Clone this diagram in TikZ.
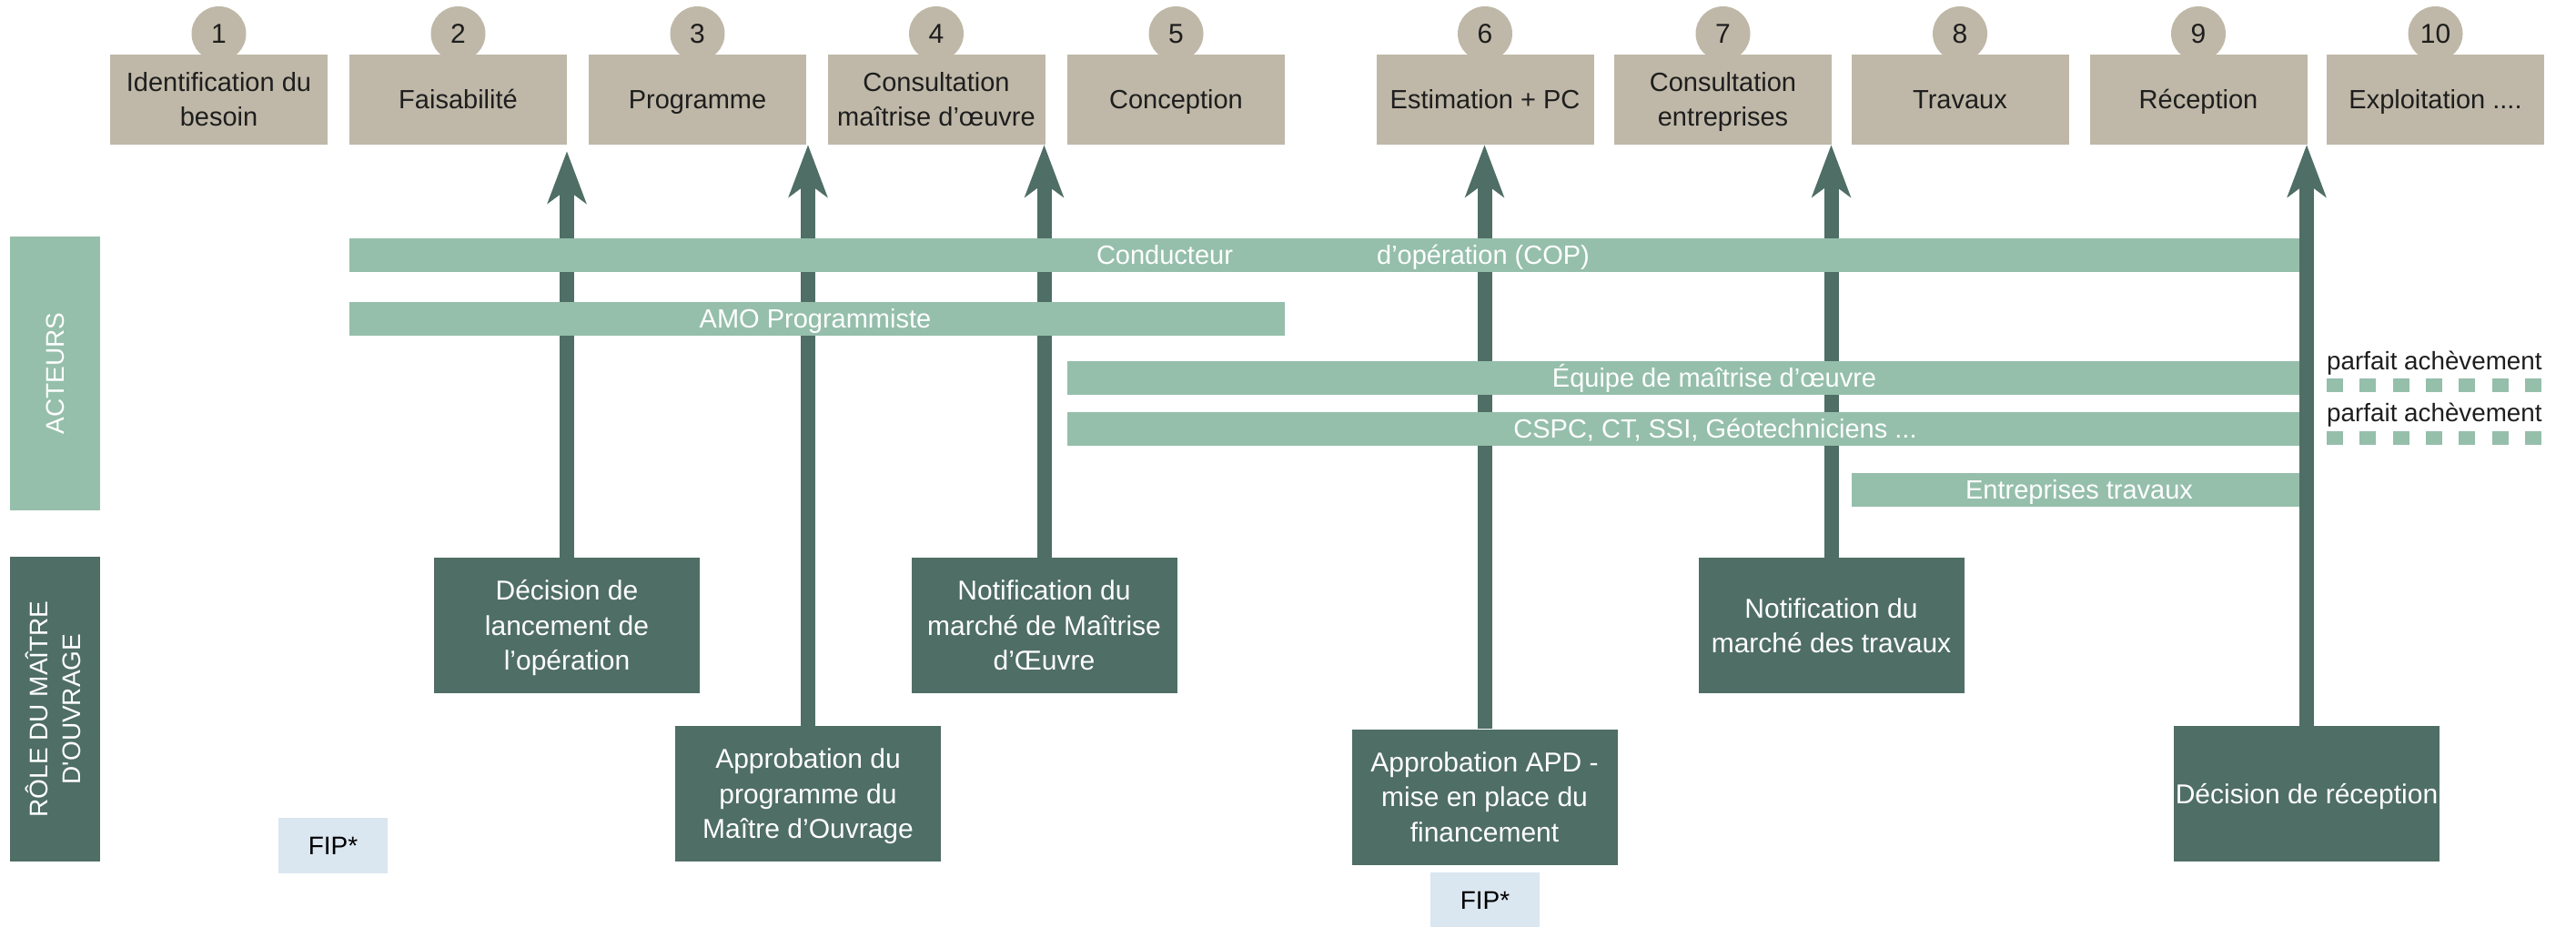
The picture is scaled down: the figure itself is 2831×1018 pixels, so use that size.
\documentclass[tikz,border=0pt]{standalone}
\usepackage{fontspec}
\setmainfont{Liberation Sans}
\usetikzlibrary{arrows.meta}
\definecolor{beige}{RGB}{191,184,168}
\definecolor{lgreen}{RGB}{149,191,171}
\definecolor{dgreen}{RGB}{79,110,101}
\definecolor{fipblue}{RGB}{218,230,240}
\definecolor{ink}{RGB}{30,30,30}
\newcommand\cl[1]{\smash{#1}\rule{0pt}{0.716em}}
\begin{document}
\begin{tikzpicture}[x=1pt,y=-1pt,
  phase/.style={fill=beige, minimum width=239pt, minimum height=99pt, inner sep=0pt, align=center, text=ink, font=\fontsize{29}{38}\selectfont},
  num/.style={circle, fill=beige, minimum size=60pt, inner sep=0pt, text=ink, font=\fontsize{30}{32}\selectfont},
  role/.style={fill=dgreen, minimum width=292pt, minimum height=149pt, inner sep=0pt, align=center, text=white, font=\fontsize{30}{38.5}\selectfont},
  bar/.style={fill=lgreen, minimum height=37pt, inner sep=0pt},
  bartext/.style={text=white, font=\fontsize{29}{30}\selectfont, inner sep=0pt},
  fip/.style={fill=fipblue, minimum width=120pt, inner sep=0pt, text=black, font=\fontsize{28}{30}\selectfont},
  side/.style={inner sep=0pt, align=center, text=white, font=\fontsize{28}{36}\selectfont},
  decision/.style={draw=dgreen, line width=16pt, -{Stealth[length=57pt,width=42pt,inset=15pt]}},
  dotbox/.style={fill=lgreen, minimum width=18pt, minimum height=15pt, inner sep=0pt},
  note/.style={text=ink, font=\fontsize{27.8}{30}\selectfont, inner sep=0pt, anchor=base west}
]
\useasboundingbox (0,0) rectangle (2831,1018);

% number circles
\foreach \n/\x in {1/240.5,2/503.5,3/766.5,4/1029,5/1292.5,6/1632,7/1893.5,8/2154,9/2416,10/2676.5}
  \node[num] (n\n) at (\x,37) {\cl{\n}};

% phase boxes
\node[phase] (p1) at (240.5,109.5) {\cl{Identification du}\\\cl{besoin}};
\node[phase] (p2) at (503.5,109.5) {\cl{Faisabilité}};
\node[phase] (p3) at (766.5,109.5) {\cl{Programme}};
\node[phase] (p4) at (1029,109.5) {\cl{Consultation}\\\cl{maîtrise d’œuvre}};
\node[phase] (p5) at (1292.5,109.5) {\cl{Conception}};
\node[phase] (p6) at (1632,109.5) {\cl{Estimation + PC}};
\node[phase] (p7) at (1893.5,109.5) {\cl{Consultation}\\\cl{entreprises}};
\node[phase] (p8) at (2154,109.5) {\cl{Travaux}};
\node[phase] (p9) at (2416,109.5) {\cl{Réception}};
\node[phase] (p10) at (2676.5,109.5) {\cl{Exploitation ....}};

% side labels
\node[side, fill=lgreen, rotate=90, minimum width=301pt, minimum height=99pt] (acteurs) at (60.5,410.5) {\cl{ACTEURS}};
\node[side, fill=dgreen, rotate=90, minimum width=335pt, minimum height=99pt] (roleMO) at (60.5,779.5) {\cl{RÔLE DU MAÎTRE}\\\cl{D\textquotesingle OUVRAGE}};

% decision boxes
\node[role] (d1) at (623,687.5) {\cl{Décision de}\\\cl{lancement de}\\\cl{l’opération}};
\node[role] (d2) at (888,872.5) {\cl{Approbation du}\\\cl{programme du}\\\cl{Maître d’Ouvrage}};
\node[role] (d3) at (1147.5,687.5) {\cl{Notification du}\\\cl{marché de Maîtrise}\\\cl{d’Œuvre}};
\node[role] (d4) at (1631.5,876) {\cl{Approbation APD -}\\\cl{mise en place du}\\\cl{financement}};
\node[role] (d5) at (2012.5,687.5) {\cl{Notification du}\\\cl{marché des travaux}};
\node[role] (d6) at (2535,872.5) {\cl{Décision de réception}};

% FIP boxes
\node[fip, minimum height=61pt] (fip1) at (366,929.5) {\cl{FIP*}};
\node[fip, minimum height=60pt] (fip2) at (1632,989) {\cl{FIP*}};

% arrows
\draw[decision, shorten >=7pt] (d1.north) -- (d1.north |- p2.south);
\draw[decision] (d2.north) -- (d2.north |- p3.south);
\draw[decision] (d3.north) -- (d3.north |- p4.south);
\draw[decision] (d4.north) -- (d4.north |- p6.south);
\draw[decision] (d5.north) -- (d5.north |- p7.south);
\draw[decision] (d6.north) -- (d6.north |- p9.south);

% actor bars
\node[bar, minimum width=2143pt] (cop) at (1455.5,280) {};
\node[bartext] (copA) at (1280,280) {\cl{Conducteur}};
\node[bartext] (copB) at (1630,280) {\cl{d’opération (COP)}};
\node[bar, minimum width=1028pt] (amo) at (898,350.5) {};
\node[bartext] (amoT) at (896,350.5) {\cl{AMO Programmiste}};
\node[bar, minimum width=1354pt] (moe) at (1850,415) {};
\node[bartext] (moeT) at (1884,415) {\cl{Équipe de maîtrise d’œuvre}};
\node[bar, minimum width=1354pt] (cspc) at (1850,471.5) {};
\node[bartext] (cspcT) at (1885,471.5) {\cl{CSPC, CT, SSI, Géotechniciens ...}};
\node[bar, minimum width=492pt] (entr) at (2281,538.5) {};
\node[bartext] (entrT) at (2285,538.5) {\cl{Entreprises travaux}};

% parfait achevement
\node[note] (pa1) at (2557,406) {parfait achèvement};
\node[note] (pa2) at (2557,463) {parfait achèvement};
\foreach \i in {0,...,6} {
  \node[dotbox] (da\i) at (2566+36.3*\i,423.5) {};
  \node[dotbox] (db\i) at (2566+36.3*\i,481.5) {};
}
\end{tikzpicture}
\end{document}
